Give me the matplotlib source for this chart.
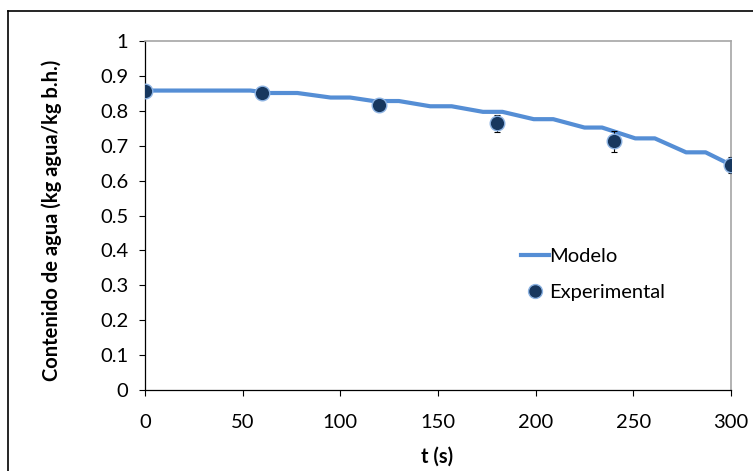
import matplotlib
matplotlib.use("Agg")
import matplotlib.pyplot as plt
from matplotlib.lines import Line2D

plt.rcParams['font.family'] = ['Lato', 'DejaVu Sans']

# Model curve (stepped polyline)
t_model = [0, 54, 64, 78, 95, 105, 117, 130, 146, 157, 173, 183, 199, 209, 225, 234, 251, 261, 277, 287, 300]
w_model = [0.858, 0.858, 0.851, 0.851, 0.838, 0.838, 0.828, 0.828, 0.813, 0.813, 0.797, 0.797,
           0.776, 0.776, 0.752, 0.752, 0.721, 0.721, 0.681, 0.681, 0.645]

# Experimental points
t_exp = [0, 60, 120, 180, 240, 300]
w_exp = [0.857, 0.851, 0.816, 0.764, 0.713, 0.645]
w_err = [0.005, 0.01, 0.012, 0.025, 0.03, 0.024]

x_ticks = [0, 50, 100, 150, 200, 250, 300]
y_ticks = [0, 0.1, 0.2, 0.3, 0.4, 0.5, 0.6, 0.7, 0.8, 0.9, 1]
y_ticklabels = ['0', '0.1', '0.2', '0.3', '0.4', '0.5', '0.6', '0.7', '0.8', '0.9', '1']

fs = 14.5

fig = plt.figure(figsize=(7.53, 4.71), dpi=100)
ax = fig.add_axes([145/753, 1-390/471, (731-145)/753, (390-41)/471])

line_color = '#558ED5'
ax.plot(t_model, w_model, color=line_color, lw=3.0, solid_joinstyle='round', zorder=2)
ax.errorbar(t_exp, w_exp, yerr=w_err, fmt='none', ecolor='black', elinewidth=0.8,
            capsize=2.5, capthick=0.8, zorder=3)
ax.plot(t_exp, w_exp, 'o', ms=10.5, mfc='#17375E', mec='#8DB3E2', mew=1.0, zorder=4, ls='none')

ax.set_xlim(0, 300)
ax.set_ylim(0, 1)
ax.set_xticks(x_ticks)
ax.set_xticklabels([str(v) for v in x_ticks])
ax.set_yticks(y_ticks)
ax.set_yticklabels(y_ticklabels)
ax.tick_params(axis='both', direction='out', length=4, width=0.8, labelsize=fs, colors='black')
ax.tick_params(axis='x', pad=13)
ax.tick_params(axis='y', pad=8)

for s in ['left', 'bottom']:
    ax.spines[s].set_color('black')
    ax.spines[s].set_linewidth(0.9)
for s in ['top', 'right']:
    ax.spines[s].set_color('#A6A6A6')
    ax.spines[s].set_linewidth(1.2)

ax.set_xlabel('t (s)', fontsize=fs, fontweight='bold')
ax.xaxis.set_label_coords(0.498, -0.163)
ax.set_ylabel('Contenido de agua (kg agua/kg b.h.)', fontsize=fs, fontweight='bold', va='center')
ax.yaxis.set_label_coords(-0.159, 0.487)

handles = [Line2D([0], [0], color=line_color, lw=3),
           Line2D([0], [0], marker='o', ls='none', ms=10, mfc='#17375E', mec='#8DB3E2')]
leg = ax.legend(handles, ['Modelo', 'Experimental'], loc='upper left',
                bbox_to_anchor=(0.611, 0.46), frameon=False, fontsize=fs,
                handlelength=1.4, handletextpad=0.0, labelspacing=0.95)

# outer chart border
fig.add_artist(Line2D([8/753, 8/753], [0, 1-11/471], transform=fig.transFigure, color='black', lw=1.2))
fig.add_artist(Line2D([8/753, 1], [1-11/471, 1-11/471], transform=fig.transFigure, color='black', lw=1.2))

fig.savefig('out.png', dpi=100)
